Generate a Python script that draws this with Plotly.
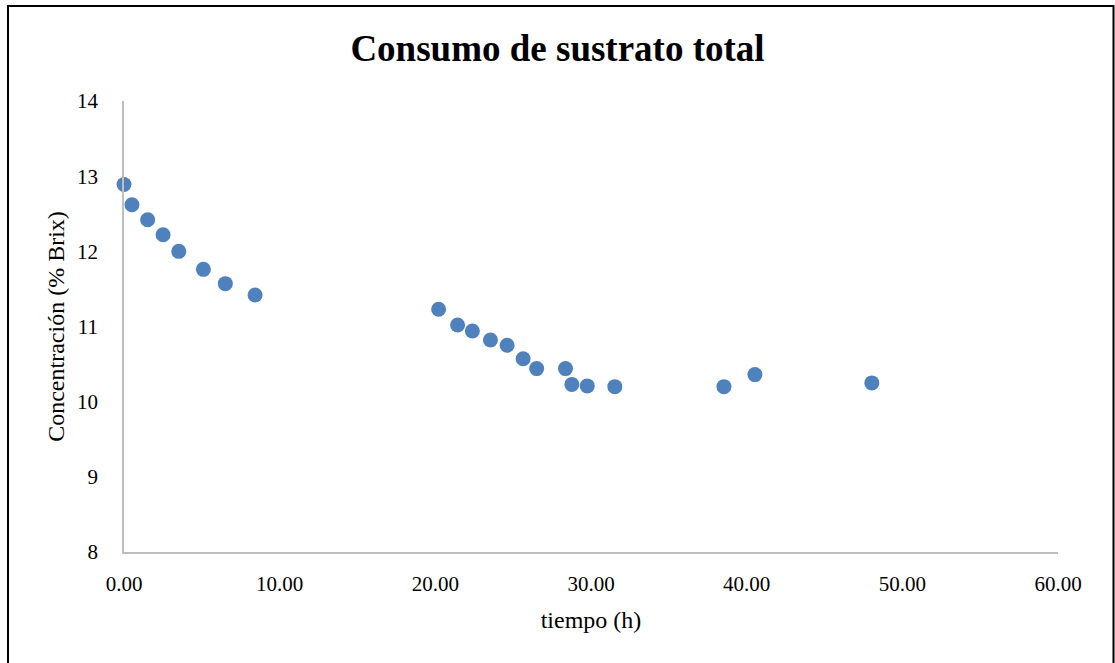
import plotly.graph_objects as go

tiempo_h = [0.0, 0.51, 1.52, 2.51, 3.52, 5.10, 6.51, 8.42,
            20.21, 21.43, 22.38, 23.54, 24.61, 25.64, 26.51, 28.36, 28.77, 29.76, 31.53,
            38.54, 40.53, 48.04]
brix = [12.89, 12.62, 12.42, 12.22, 12.00, 11.76, 11.57, 11.42,
        11.23, 11.02, 10.94, 10.82, 10.75, 10.57, 10.44, 10.44, 10.23, 10.21, 10.20,
        10.20, 10.36, 10.25]
x_ticks = [0, 10, 20, 30, 40, 50, 60]
x_tick_labels = ["0.00", "10.00", "20.00", "30.00", "40.00", "50.00", "60.00"]
y_ticks = [8, 9, 10, 11, 12, 13, 14]

W, H = 1115, 663
L, R, T, B = 124, 57, 101, 111
pw, ph = W - L - R, H - T - B

fig = go.Figure(go.Scatter(
    x=tiempo_h, y=brix, mode="markers", cliponaxis=False,
    marker=dict(size=15, color="#4F81BD", line=dict(width=0)),
))

font = "Liberation Serif, Times New Roman, serif"
fig.update_layout(
    width=W, height=H,
    margin=dict(l=L, r=R, t=T, b=B),
    paper_bgcolor="white", plot_bgcolor="white",
    showlegend=False,
    font=dict(family=font, size=21, color="black"),
    title=dict(text="<b>Consumo de sustrato total</b>", x=0.5, xanchor="center",
               y=1 - 48 / H, yanchor="middle", font=dict(family=font, size=37, color="black")),
    xaxis=dict(range=[0, 60], tickvals=x_ticks, ticktext=x_tick_labels,
               showgrid=False, zeroline=False, showline=True, linecolor="#BFBFBF", linewidth=1.5,
               ticks="", ticklabelstandoff=12, tickfont=dict(family=font, size=21),
               title=dict(text="tiempo (h)", standoff=16, font=dict(family=font, size=24))),
    yaxis=dict(range=[8, 14], tickvals=y_ticks,
               showgrid=False, zeroline=False, showline=True, linecolor="#BFBFBF", linewidth=1.5,
               ticks="", ticklabelstandoff=20, tickfont=dict(family=font, size=21),
               title=dict(text="Concentración (% Brix)", standoff=6, font=dict(family=font, size=24))),
)

def px_to_paper_x(px):
    return (px - L) / pw

def px_to_paper_y(py):
    return (H - B - py) / ph

# outer chart border
fig.add_shape(type="rect", xref="paper", yref="paper",
              x0=px_to_paper_x(8), x1=px_to_paper_x(1113.5),
              y0=px_to_paper_y(666), y1=px_to_paper_y(6),
              line=dict(color="black", width=2), fillcolor="rgba(0,0,0,0)", layer="above")

fig.write_html("out.html")
